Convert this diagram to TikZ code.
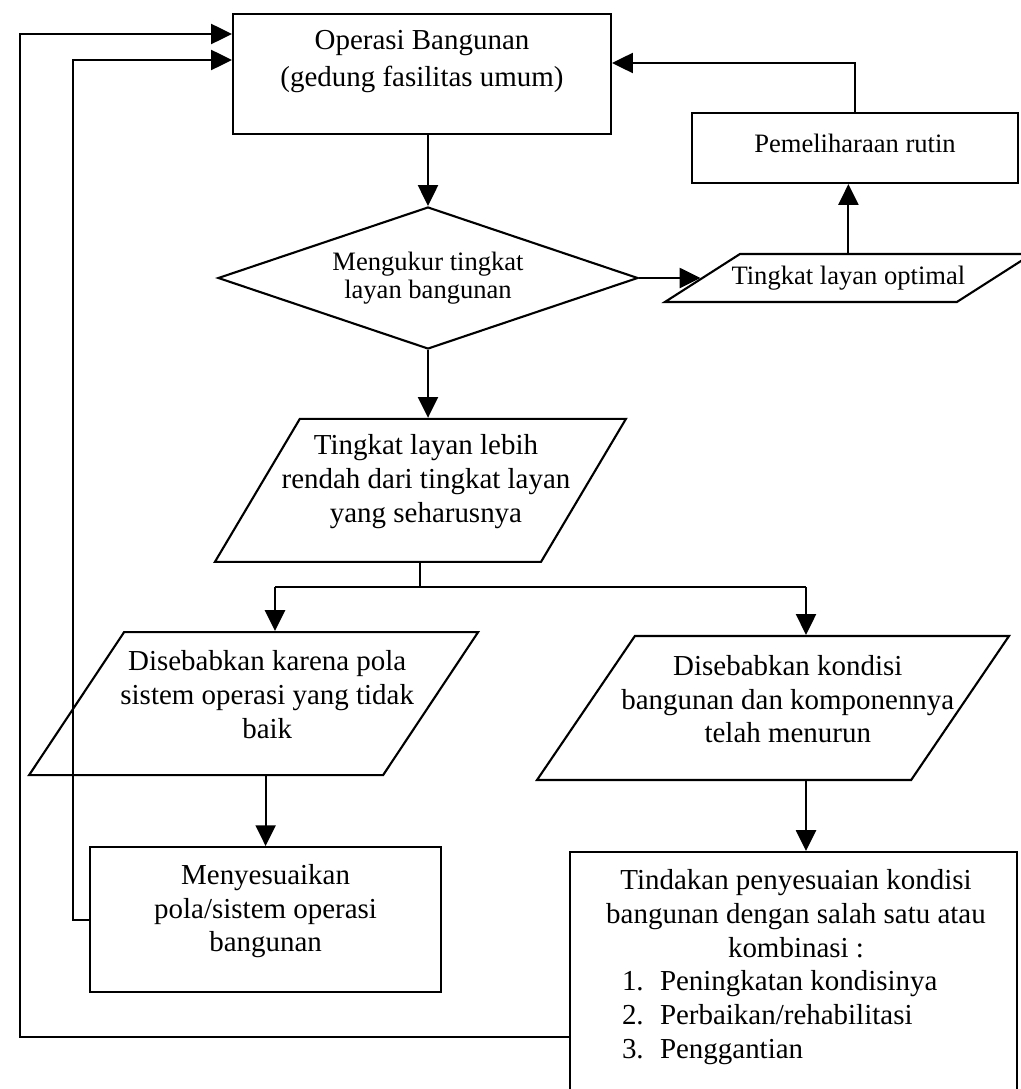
\documentclass[tikz,border=0pt]{standalone}
\usepackage{fontspec}
\setmainfont{Liberation Serif}
\usetikzlibrary{arrows.meta,shapes.geometric}

\newcommand{\tinditem}[2]{\makebox[8.7cm][l]{\makebox[0.95cm][l]{#1}#2}}

\begin{document}
\begin{tikzpicture}[
  procbox/.style={draw, line width=1.5pt, rectangle, inner sep=0pt},
  iobox/.style={draw, line width=1.5pt, trapezium, trapezium stretches body,
                inner sep=0pt},
  decbox/.style={draw, line width=1.5pt, diamond, aspect=3, inner sep=0pt,
                 align=center, font=\fontsize{18.9}{20}\selectfont},
  txt/.style={align=center, inner sep=0pt, font=\fontsize{20.6}{24}\selectfont},
  smalltxt/.style={txt, font=\fontsize{18.9}{20}\selectfont},
  link/.style={line width=1.5pt},
  flow/.style={link, -{Triangle[length=0.52cm, width=0.5cm]}},
]
\useasboundingbox (0,0) rectangle (25.525,-27.225);

% Top
\node[procbox, minimum width=9.45cm, minimum height=3.0cm,
      label={[txt, yshift=0.31cm, font=\fontsize{20.6}{26}\selectfont]center:{Operasi Bangunan\\(gedung fasilitas umum)}}]
  (ops) at (10.55,-1.85) {};
\node[procbox, minimum width=8.15cm, minimum height=1.75cm,
      label={[smalltxt, yshift=0.125cm]center:Pemeliharaan rutin}]
  (pem) at (21.375,-3.7) {};

% Measuring
\node[decbox, minimum width=10.5cm, minimum height=3.55cm]
  (dia) at (10.7,-6.95) {Mengukur tingkat\\layan bangunan};
\node[iobox, trapezium left angle=32.6, trapezium right angle=147.4,
      minimum width=9.175cm,
      label={[smalltxt]center:Tingkat layan optimal}]
  (opt) at (21.21,-6.95) {\rule{0pt}{1.2cm}};

% Lower service level
\node[iobox, trapezium left angle=59.3, trapezium right angle=120.7,
      minimum width=10.275cm,
      label={[txt, xshift=0.14cm, yshift=0.22cm]center:{Tingkat layan lebih\\rendah dari tingkat layan\\yang seharusnya}}]
  (leb) at (10.51,-12.26) {\rule{0pt}{3.575cm}};
\coordinate (sl) at (6.875,-14.675);
\coordinate (sr) at (20.15,-14.675);

% Causes
\node[iobox, trapezium left angle=56.4, trapezium right angle=123.6,
      minimum width=11.225cm,
      label={[txt, xshift=0.34cm, yshift=0.22cm]center:{Disebabkan karena pola\\sistem operasi yang tidak\\baik}}]
  (kar) at (6.34,-17.59) {\rule{0pt}{3.575cm}};
\node[iobox, trapezium left angle=55.8, trapezium right angle=124.2,
      minimum width=11.8cm,
      label={[txt, xshift=0.37cm, yshift=0.22cm]center:{Disebabkan kondisi\\bangunan dan komponennya\\telah menurun}}]
  (kon) at (19.325,-17.7) {\rule{0pt}{3.6cm}};

% Actions
\node[procbox, minimum width=8.775cm, minimum height=3.625cm,
      label={[txt, yshift=0.21cm]center:{Menyesuaikan\\pola/sistem operasi\\bangunan}}]
  (men) at (6.64,-22.99) {};
\node[procbox, anchor=north, minimum width=11.175cm, minimum height=6.5cm,
      label={[txt, xshift=0.06cm, yshift=0.375cm]center:{Tindakan penyesuaian kondisi\\
        bangunan dengan salah satu atau\\kombinasi :\\
        \tinditem{1.}{Peningkatan kondisinya}\\
        \tinditem{2.}{Perbaikan/rehabilitasi}\\
        \tinditem{3.}{Penggantian}}}]
  (tin) at (19.84,-21.275) {};
\coordinate (fb) at ([yshift=-4.65cm]tin.north west);

% Connectors
\draw[flow] (ops.south -| dia.north) -- (dia.north);
\draw[flow] (dia.east) -- (dia.east -| opt.left side);
\draw[flow] (opt.north -| opt.center) -- (opt.center |- pem.south);
\draw[flow] (pem.north) |- ([yshift=0.275cm]ops.east);
\draw[flow] (dia.south) -- (dia.south |- leb.north);
\draw[link] (leb.south -| leb.center) -- (leb.center |- sl);
\draw[link] (sl) -- (sr);
\draw[flow] (sl) -- (sl |- kar.north);
\draw[flow] (sr) -- (sr |- kon.north);
\draw[flow] (kar.south -| men.north) -- (men.north);
\draw[flow] (kon.south -| sr) -- (tin.north -| sr);

% Feedback
\draw[flow] (men.west) -- (men.west -| 1.825,0) |- ([yshift=0.35cm]ops.west);
\draw[flow] (fb) -- (fb -| 0.5,0) |- ([yshift=1cm]ops.west);

\end{tikzpicture}
\end{document}
